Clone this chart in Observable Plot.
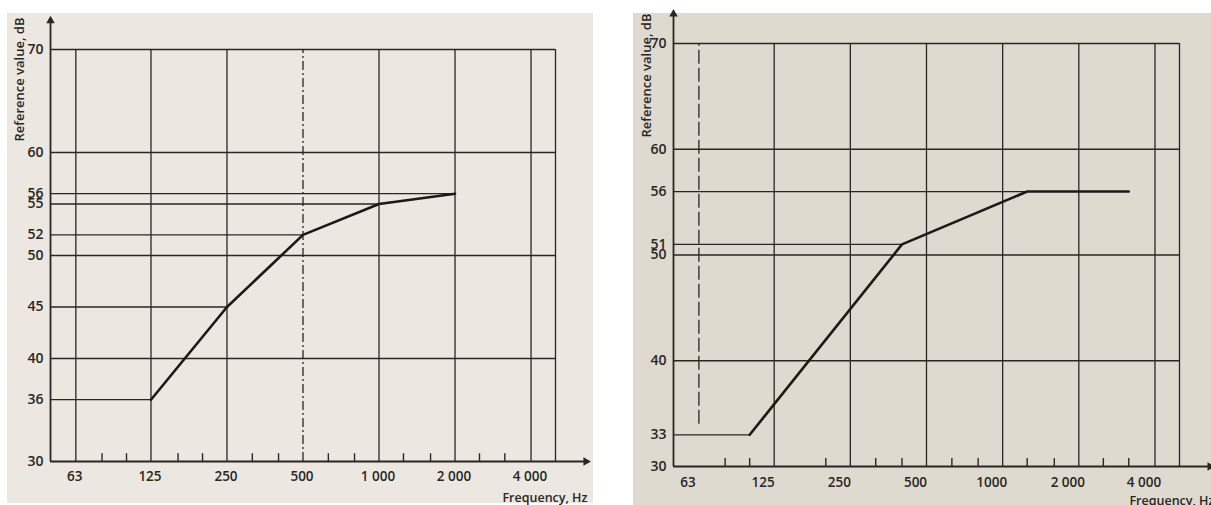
<!DOCTYPE html>
<html><head><meta charset="utf-8">
<script src="https://cdn.jsdelivr.net/npm/d3@7"></script>
<script src="https://cdn.jsdelivr.net/npm/@observablehq/plot@0.6"></script>
<style>
body{margin:0;background:#fff;width:1211px;height:505px;position:relative;overflow:hidden;font-family:"Open Sans",sans-serif}
.paper{position:absolute}
#pL{left:7px;top:13px;width:586px;height:490px;background:#ece7e1}
#pR{left:633px;top:13px;width:578px;height:492px;background:#dedad0}
#cL{position:absolute;left:0;top:0;width:600px;height:505px}
#cR{position:absolute;left:610px;top:0;width:601px;height:505px;overflow:hidden}
svg{overflow:visible}
</style></head><body>
<div class="paper" id="pL"></div><div class="paper" id="pR"></div>
<div id="cL"></div><div id="cR"></div>
<script>
// ---- data ----
const xLimits = [50, 5000];
const yLimits = [30, 70];
const axisArrowTip = [6600, 72.8];              // [frequency, dB] of the axis arrow tips
const octaveTicks = [63, 125, 250, 500, 1000, 2000, 4000];
const frameEdge = [5000];
const octaveLabelsLeft = ["63", "125", "250", "500", "1 000", "2 000", "4 000"];
const octaveLabelsRight = ["63", "125", "250", "500", "1000", "2 000", "4 000"];
const thirdOctaveTicksLeft = [80, 100, 160, 200, 315, 400, 630, 800, 1250, 1600, 2500, 3150];
const thirdOctaveTicksRight = [80, 100, 200, 315, 400, 630, 800, 1250, 1600, 2500, 3150];
const fullGridDb = [40, 50, 60, 70];

// left chart: octave-band reference curve
const leftFreq = [125, 250, 500, 1000, 2000];
const leftDb = [36, 45, 52, 55, 56];
const leftYTicks = [30, 36, 40, 45, 50, 52, 55, 56, 60, 70];
const leftDashed = [500];

// right chart: one-third-octave reference curve
const rightFreq = [100, 400, 1250, 3150];
const rightDb = [33, 51, 56, 56];
const rightYTicks = [30, 33, 40, 50, 51, 56, 60, 70];
const rightDashed = [63];

const yTitle = "Reference value, dB";
const xTitle = "Frequency, Hz";

const ink = "#2a2623";

function makeChart(c) {
  const curve = c.freq.map((f, i) => ({f, db: c.db[i]}));
  const xLabelRows = octaveTicks.map((f, i) => ({f, label: c.xLabels[i]}));
  // partial horizontal lines: from axis to the first curve point at that level
  const partial = c.yTicks
    .filter(v => v !== yLimits[0] && !fullGridDb.includes(v))
    .map(v => ({db: v, f: c.freq[c.db.indexOf(v)]}))
    .filter(d => d.f !== undefined);
  const solidV = octaveTicks.filter(f => !c.dashed.includes(f)).concat(frameEdge);
  const dashedV = octaveTicks.filter(f => c.dashed.includes(f));
  return Plot.plot({
    width: c.width, height: 505,
    marginLeft: c.ml, marginRight: c.mr, marginTop: c.mt, marginBottom: c.mb,
    x: {type: "log", domain: xLimits, axis: null},
    y: {domain: yLimits},
    style: {background: "transparent", color: ink, fontFamily: "'Open Sans', sans-serif", overflow: "visible"},
    marks: [
      Plot.ruleY(fullGridDb, {x1: xLimits[0], x2: frameEdge[0], stroke: ink, strokeWidth: 1.3}),
      Plot.ruleY(partial, {y: "db", x1: xLimits[0], x2: "f", stroke: ink, strokeWidth: 1.3}),
      Plot.ruleX(solidV, {y1: yLimits[0], y2: yLimits[1], stroke: ink, strokeWidth: 1.3}),
      Plot.ruleX(dashedV, {y1: c.dashY1, y2: yLimits[1], stroke: ink, strokeWidth: 1.3, strokeDasharray: c.dashPattern}),
      Plot.ruleX(c.minor, {y1: yLimits[0], y2: yLimits[0] + 0.75, stroke: ink, strokeWidth: 1.4}),
      Plot.line(curve, {x: "f", y: "db", stroke: "#1c1917", strokeWidth: 2.6, strokeLinejoin: "round"}),
      // axes with arrows
      Plot.ruleY([yLimits[0]], {x1: xLimits[0], x2: axisArrowTip[0], stroke: ink, strokeWidth: 1.8}),
      Plot.ruleX([xLimits[0]], {y1: yLimits[0], y2: axisArrowTip[1], stroke: ink, strokeWidth: 1.8}),
      Plot.dot([axisArrowTip[0]], {x: d => d, y: yLimits[0], symbol: "triangle", rotate: 90, r: 3.2, fill: ink, stroke: "none"}),
      Plot.dot([axisArrowTip[1]], {x: xLimits[0], y: d => d, symbol: "triangle", r: 3.2, fill: ink, stroke: "none"}),
      Plot.axisY({ticks: c.yTicks, tickSize: 0, tickPadding: 7, tickFormat: d => String(d), fontSize: 14, fontWeight: 600, label: null}),
      Plot.text(xLabelRows, {x: "f", y: yLimits[0], text: "label", dx: c.xlDx, dy: c.xlDy, fontSize: 13.5, fontWeight: 600, fill: ink}),
      Plot.text([yTitle], {text: d => d, frameAnchor: "top-left", rotate: -90, textAnchor: "end", dx: c.ytDx, dy: c.ytDy, fontSize: 13, fontWeight: 600, fill: ink}),
      Plot.text([xTitle], {text: d => d, frameAnchor: "bottom-right", textAnchor: "end", dx: c.xtDx, dy: c.xtDy, fontSize: 12.5, fontWeight: 600, fill: ink})
    ]
  });
}

document.getElementById("cL").append(makeChart({
  width: 600, ml: 50, mr: 45, mt: 49, mb: 44,
  freq: leftFreq, db: leftDb, yTicks: leftYTicks, xLabels: octaveLabelsLeft,
  minor: thirdOctaveTicksLeft, dashed: leftDashed, dashY1: 30, dashPattern: "9,3,2,3",
  xlDx: -1, xlDy: 15,
  ytDx: -36, ytDy: -32, xtDx: 32, xtDy: 40
}));
document.getElementById("cR").append(makeChart({
  width: 601, ml: 63, mr: 32, mt: 43, mb: 39,
  freq: rightFreq, db: rightDb, yTicks: rightYTicks, xLabels: octaveLabelsRight,
  minor: thirdOctaveTicksRight, dashed: rightDashed, dashY1: 34, dashPattern: "14,4",
  xlDx: -11, xlDy: 16,
  ytDx: -32, ytDy: -30, xtDx: 35, xtDy: 38
}));
</script>
</body></html>
